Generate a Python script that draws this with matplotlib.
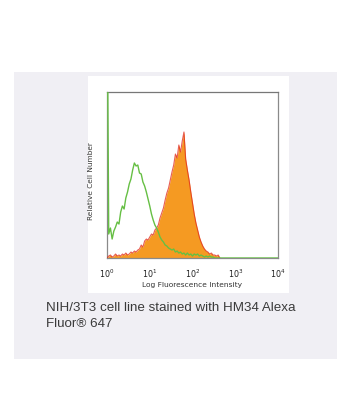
import numpy as np
import matplotlib
matplotlib.use('Agg')
import matplotlib.pyplot as plt
from matplotlib.patches import Rectangle

plt.rcParams['font.family'] = 'DejaVu Sans'
plt.rcParams['mathtext.fontset'] = 'dejavusans'

# channel positions (log10 of fluorescence), step 0.04 decade
step = 0.04
green_counts = [300, 24, 30, 19, 27, 31, 36, 34, 46, 52, 49, 60, 66, 74, 79, 88,
                95, 92, 93, 85, 84, 76, 72, 66, 59, 52, 44, 38, 33, 30, 26, 21,
                18, 16, 13, 12, 10, 9, 8, 9, 6, 7, 5, 6, 4, 5, 3, 5,
                3, 4, 2, 4, 3, 4, 2, 3, 2, 1, 2, 1, 2, 1, 1, 0]
orange_counts = [0, 2, 3, 1, 2, 4, 2, 3, 2, 4, 3, 5, 3, 4, 6, 5,
                 7, 6, 8, 9, 13, 11, 17, 19, 18, 21, 24, 23, 28, 30, 33, 40,
                 45, 50, 58, 65, 70, 78, 86, 93, 104, 100, 113, 106, 117, 126, 99, 88,
                 78, 66, 55, 44, 35, 28, 21, 16, 12, 9, 7, 6, 4, 5, 3, 3,
                 2, 3, 0]
x_ticks = [1, 10, 100, 1000, 10000]
x_tick_labels = [r'$10^{0}$', r'$10^{1}$', r'$10^{2}$', r'$10^{3}$', r'$10^{4}$']
caption = 'NIH/3T3 cell line stained with HM34 Alexa\nFluor\u00ae 647'

fig = plt.figure(figsize=(3.62, 4.19), dpi=100)
fig.patch.set_facecolor('white')
fig.patches.append(Rectangle((0.0387, 0.1432), 0.892, 0.685, transform=fig.transFigure,
                             facecolor='#f0eff4', edgecolor='none', zorder=-2))
fig.patches.append(Rectangle((0.243, 0.3007), 0.555, 0.518, transform=fig.transFigure,
                             facecolor='white', edgecolor='none', zorder=-1))

ax = fig.add_axes([0.2956, 0.3842, 0.4724, 0.3962])
ax.set_facecolor('white')
ax.set_xscale('log')

x_orange = 10 ** (np.arange(len(orange_counts)) * step)
x_green = 10 ** (np.arange(len(green_counts)) * step)
# green baseline runs on to the right edge
x_green = np.append(x_green, 1e4)
y_green = np.append(green_counts, 0)

ax.fill_between(x_orange, orange_counts, color='#f59a22', linewidth=0, zorder=2)
ax.plot(x_orange, orange_counts, color='#e0291c', linewidth=0.8, alpha=0.75, zorder=3)
ax.plot(x_green, y_green, color='#66bf44', linewidth=1.0, zorder=4)

ax.set_xlim(1, 1e4)
ax.set_ylim(0, 166)
ax.set_xticks(x_ticks)
ax.set_xticklabels(x_tick_labels, fontsize=5.8)
ax.xaxis.set_minor_locator(matplotlib.ticker.NullLocator())
ax.tick_params(axis='x', length=0, pad=7, colors='#222222')
ax.set_yticks([])
for side in ['top', 'right', 'bottom', 'left']:
    ax.spines[side].set_color('#8a8a8a')
    ax.spines[side].set_linewidth(0.9)
ax.spines['top'].set_color('#777777')

ax.set_xlabel('Log Fluorescence Intensity', fontsize=5.4, color='#333333', labelpad=1)
ax.set_ylabel('Relative Cell Number', fontsize=5.3, color='#333333')
ax.yaxis.set_label_coords(-0.076, 0.464)

fig.text(46 / 362, 1 - 302 / 419, caption, fontsize=9.6, family='Liberation Sans',
         color='#3a3a3a', va='top', linespacing=1.42)

fig.savefig('out.png', dpi=100)
